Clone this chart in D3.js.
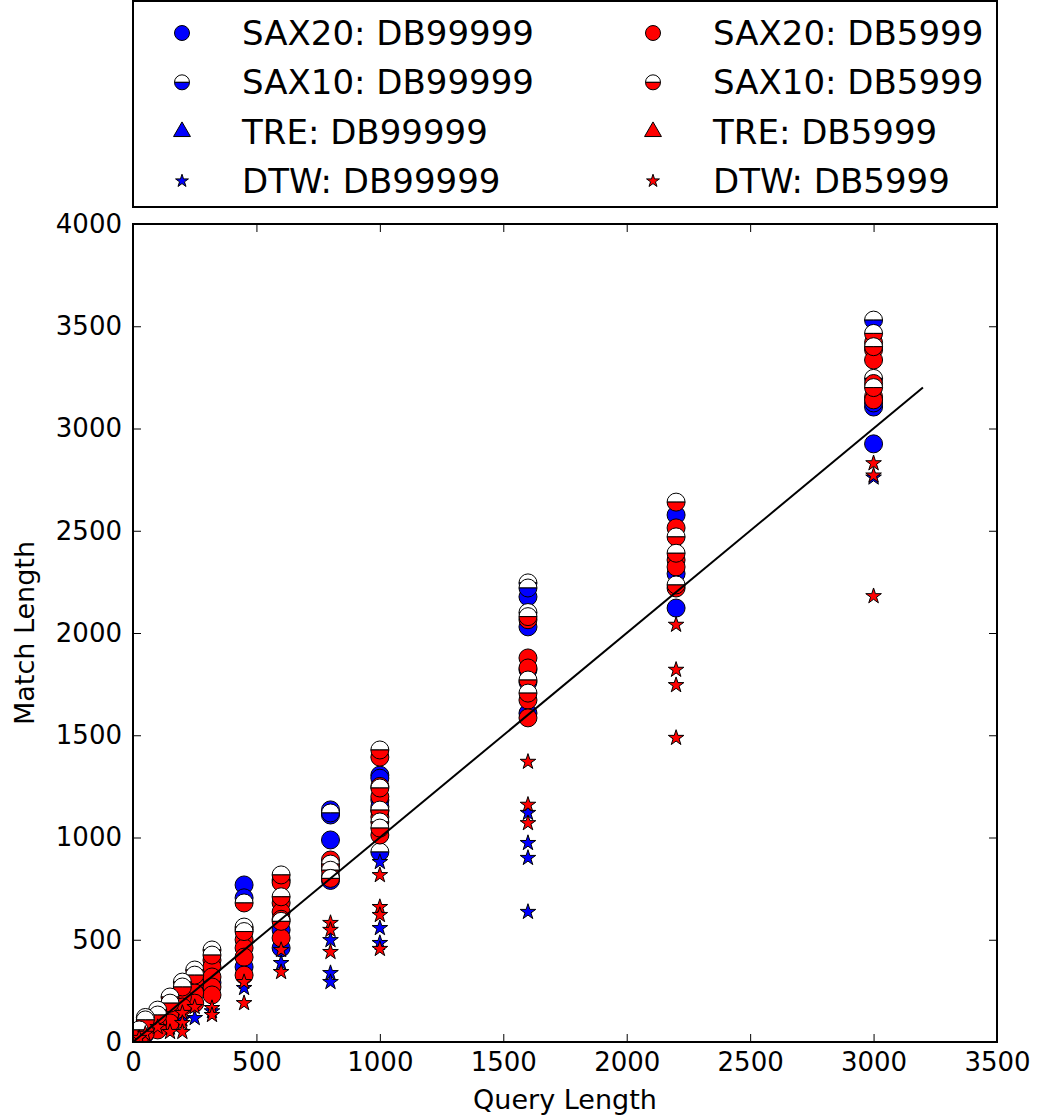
<!DOCTYPE html>
<html>
<head>
<meta charset="utf-8">
<script src="https://cdn.jsdelivr.net/npm/d3@7"></script>
<style>
    body { margin: 0; background: #fff; }
    svg { display: block; font-family: "DejaVu Sans", sans-serif; }
</style>
</head>
<body>
<div class="dm-container-graph"></div>
<script>

    // one [query length, match length] pair per point
    var sax20Db99999 = [
        [3000, 2925], [3000, 3105], [3000, 3125],
        [2200, 2577], [2200, 2290], [2200, 2122],
        [1600, 2177], [1600, 2030], [1600, 1820], [1600, 1608],
        [1000, 1305], [1000, 1290], [1000, 1183], [1000, 1150],
        [800, 1135], [800, 1110], [800, 988], [800, 790],
        [600, 548], [600, 460],
        [450, 768], [450, 705], [450, 367],
        [320, 290], [250, 260], [200, 180], [150, 120], [100, 80], [50, 40]
    ]
    var sax10Db99999 = [
        [3000, 3530], [3000, 3245],
        [1600, 2245], [1600, 2220], [1600, 2100], [1600, 1760],
        [1000, 1130], [1000, 929],
        [800, 1120],
        [600, 792],
        [450, 550]
    ]
    var treDb99999 = []
    var dtwDb99999 = [
        [3000, 2760],
        [1600, 1120], [1600, 973], [1600, 900], [1600, 636],
        [1000, 880], [1000, 557], [1000, 484],
        [800, 498], [800, 337], [800, 293],
        [600, 386], [450, 264], [320, 150], [250, 117], [200, 110], [150, 70]
    ]

    var sax20Db5999 = [
        [3000, 3420], [3000, 3385], [3000, 3335], [3000, 3220], [3000, 3155], [3000, 3140],
        [2200, 2514], [2200, 2357], [2200, 2323], [2200, 2220],
        [1600, 2065], [1600, 1878], [1600, 1829], [1600, 1672], [1600, 1585],
        [1000, 1393], [1000, 1250], [1000, 1200], [1000, 1100], [1000, 1012],
        [800, 890], [800, 855], [800, 810],
        [600, 780], [600, 680], [600, 636], [600, 600], [600, 509],
        [450, 500], [450, 460], [450, 415], [450, 327],
        [320, 400], [320, 367], [320, 318], [320, 269], [320, 230],
        [250, 288], [250, 240], [250, 190],
        [200, 220], [200, 171],
        [150, 142], [150, 93],
        [100, 93], [100, 59],
        [50, 73], [50, 44],
        [25, 24], [25, 10]
    ]
    var sax10Db5999 = [
        [3000, 3465], [3000, 3400], [3000, 3200],
        [2200, 2640], [2200, 2470], [2200, 2390], [2200, 2235],
        [1600, 2080], [1600, 1770], [1600, 1706],
        [1000, 1428], [1000, 1242], [1000, 1134], [1000, 1076], [1000, 1046],
        [800, 870], [800, 840], [800, 800],
        [600, 817], [600, 710], [600, 590],
        [450, 680], [450, 562], [450, 540],
        [320, 450], [320, 425],
        [250, 352], [250, 327],
        [200, 293], [200, 269],
        [150, 220], [150, 190],
        [100, 156], [100, 132],
        [50, 120], [50, 108],
        [25, 59]
    ]
    var treDb5999 = []
    var dtwDb5999 = [
        [3000, 2830], [3000, 2770], [3000, 2180],
        [2200, 2040], [2200, 1820], [2200, 1745], [2200, 1487],
        [1600, 1370], [1600, 1160], [1600, 1070],
        [1000, 816], [1000, 660], [1000, 621], [1000, 455],
        [800, 582], [800, 548], [800, 440],
        [600, 450], [600, 342],
        [450, 293], [450, 190],
        [320, 166], [320, 132],
        [250, 171],
        [200, 142], [200, 93], [200, 49],
        [150, 49], [100, 73], [50, 40], [25, 20]
    ]

    // y = x reference line
    var fitLine = [[0, 0], [3200, 3200]]

    var xTicks = [0, 500, 1000, 1500, 2000, 2500, 3000, 3500]
    var yTicks = [0, 500, 1000, 1500, 2000, 2500, 3000, 3500, 4000]

    var series = [
        { name: "SAX20: DB99999", color: "#0000ff", shape: "circle", data: sax20Db99999 },
        { name: "SAX10: DB99999", color: "#0000ff", shape: "half", data: sax10Db99999 },
        { name: "TRE: DB99999", color: "#0000ff", shape: "triangle", data: treDb99999 },
        { name: "DTW: DB99999", color: "#0000ff", shape: "star", data: dtwDb99999 },
        { name: "SAX20: DB5999", color: "#ff0000", shape: "circle", data: sax20Db5999 },
        { name: "SAX10: DB5999", color: "#ff0000", shape: "half", data: sax10Db5999 },
        { name: "TRE: DB5999", color: "#ff0000", shape: "triangle", data: treDb5999 },
        { name: "DTW: DB5999", color: "#ff0000", shape: "star", data: dtwDb5999 }
    ]

    var width = 1041, height = 1119
    var margin = { top: 224, left: 133, bottom: 77, right: 44 }
    var chartWidth = width - (margin.left + margin.right)
    var chartHeight = height - (margin.top + margin.bottom)

    var svg = d3.select(".dm-container-graph").append("svg")
        .attr("width", width).attr("height", height)

    var chartLayer = svg.append("g")
        .attr("transform", "translate(" + [margin.left, margin.top] + ")")

    var x = d3.scaleLinear().domain([0, 3500]).range([0, chartWidth])
    var y = d3.scaleLinear().domain([0, 4000]).range([chartHeight, 0])

    var halfArc = d3.arc().innerRadius(0)

    // draws one marker of the given shape into g, centred on 0,0
    function drawMarker(g, shape, color, r) {
        if (shape == "circle") {
            g.append("circle").attr("r", r)
                .attr("fill", color).attr("stroke", "#000").attr("stroke-width", 1)
        } else if (shape == "half") {
            g.append("path")
                .attr("d", halfArc.outerRadius(r)({ startAngle: -Math.PI / 2, endAngle: Math.PI / 2 }))
                .attr("fill", "#fff").attr("stroke", "#000").attr("stroke-width", 1)
            g.append("path")
                .attr("d", halfArc.outerRadius(r)({ startAngle: Math.PI / 2, endAngle: 3 * Math.PI / 2 }))
                .attr("fill", color).attr("stroke", "#000").attr("stroke-width", 1)
        } else if (shape == "triangle") {
            g.append("path")
                .attr("d", d3.symbol(d3.symbolTriangle, r * r * 2.2)())
                .attr("fill", color).attr("stroke", "#000").attr("stroke-width", 1)
        } else {
            g.append("path")
                .attr("d", d3.symbol(d3.symbolStar, r * r * 1.05)())
                .attr("fill", color).attr("stroke", "#000").attr("stroke-width", 1)
        }
    }

    drawChart()
    drawAxis()
    drawLegend()

    function drawChart() {
        var clip = svg.append("clipPath").attr("id", "plotClip")
        clip.append("rect").attr("width", chartWidth).attr("height", chartHeight)

        var pointLayer = chartLayer.append("g").attr("clip-path", "url(#plotClip)")

        series.forEach(function(s) {
            var shapeR = s.shape == "star" ? 8.5 : 9
            pointLayer.selectAll(null)
                .data(s.data)
                .enter().append("g")
                .attr("transform", function(d) { return "translate(" + [x(d[0]), y(d[1])] + ")" })
                .each(function() { drawMarker(d3.select(this), s.shape, s.color, shapeR) })
        })

        var line = d3.line()
            .x(function(d) { return x(d[0]) })
            .y(function(d) { return y(d[1]) })

        chartLayer.append("path")
            .datum(fitLine)
            .attr("d", line)
            .attr("fill", "none")
            .attr("stroke", "#000")
            .attr("stroke-width", 2)
    }

    function drawAxis() {
        var fmt = d3.format("d")
        var xAxis = d3.axisBottom(x).tickValues(xTicks).tickFormat(fmt).tickSizeInner(-8).tickSizeOuter(0).tickPadding(11)
        var yAxis = d3.axisLeft(y).tickValues(yTicks).tickFormat(fmt).tickSizeInner(-8).tickSizeOuter(0).tickPadding(11)

        var gx = chartLayer.append("g")
            .attr("transform", "translate(0," + chartHeight + ")")
            .call(xAxis)
        var gy = chartLayer.append("g").call(yAxis)

        // mirrored ticks on the top and right sides
        var gxTop = chartLayer.append("g")
            .call(d3.axisTop(x).tickValues(xTicks).tickSizeInner(-8).tickSizeOuter(0).tickFormat(""))
        var gyRight = chartLayer.append("g")
            .attr("transform", "translate(" + chartWidth + ",0)")
            .call(d3.axisRight(y).tickValues(yTicks).tickSizeInner(-8).tickSizeOuter(0).tickFormat(""))

        ;[gx, gy, gxTop, gyRight].forEach(function(g) {
            g.select(".domain").remove()
            g.selectAll(".tick line").attr("stroke", "#000").attr("stroke-width", 1)
            g.selectAll("text").attr("font-size", 26).attr("fill", "#000")
                .attr("font-family", "DejaVu Sans, sans-serif")
        })

        chartLayer.append("rect")
            .attr("width", chartWidth).attr("height", chartHeight)
            .attr("fill", "none").attr("stroke", "#000").attr("stroke-width", 2)

        svg.append("text")
            .attr("x", margin.left + chartWidth / 2)
            .attr("y", height - 10)
            .attr("text-anchor", "middle")
            .attr("font-size", 27)
            .text("Query Length")

        svg.append("text")
            .attr("transform", "translate(" + [34, margin.top + chartHeight / 2] + ") rotate(-90)")
            .attr("text-anchor", "middle")
            .attr("font-size", 27)
            .text("Match Length")
    }

    function drawLegend() {
        var legend = svg.append("g")

        legend.append("rect")
            .attr("x", margin.left).attr("y", 1)
            .attr("width", chartWidth).attr("height", 206)
            .attr("fill", "#fff").attr("stroke", "#000").attr("stroke-width", 2)

        // two columns, filled top to bottom
        var colX = [182, 653]
        var rowY = d3.scaleLinear().domain([0, 3]).range([33, 181])

        var items = legend.selectAll(".item")
            .data(series)
            .enter().append("g")
            .attr("class", "item")
            .attr("transform", function(d, i) {
                return "translate(" + [colX[Math.floor(i / 4)], rowY(i % 4)] + ")"
            })

        items.append("g").each(function(d) {
            drawMarker(d3.select(this), d.shape, d.color, d.shape == "star" ? 7 : 7.5)
        })

        items.append("text")
            .attr("x", 60)
            .attr("y", 12)
            .attr("font-size", 34)
            .attr("fill", "#000")
            .text(function(d) { return d.name })
    }

</script>
</body>
</html>
